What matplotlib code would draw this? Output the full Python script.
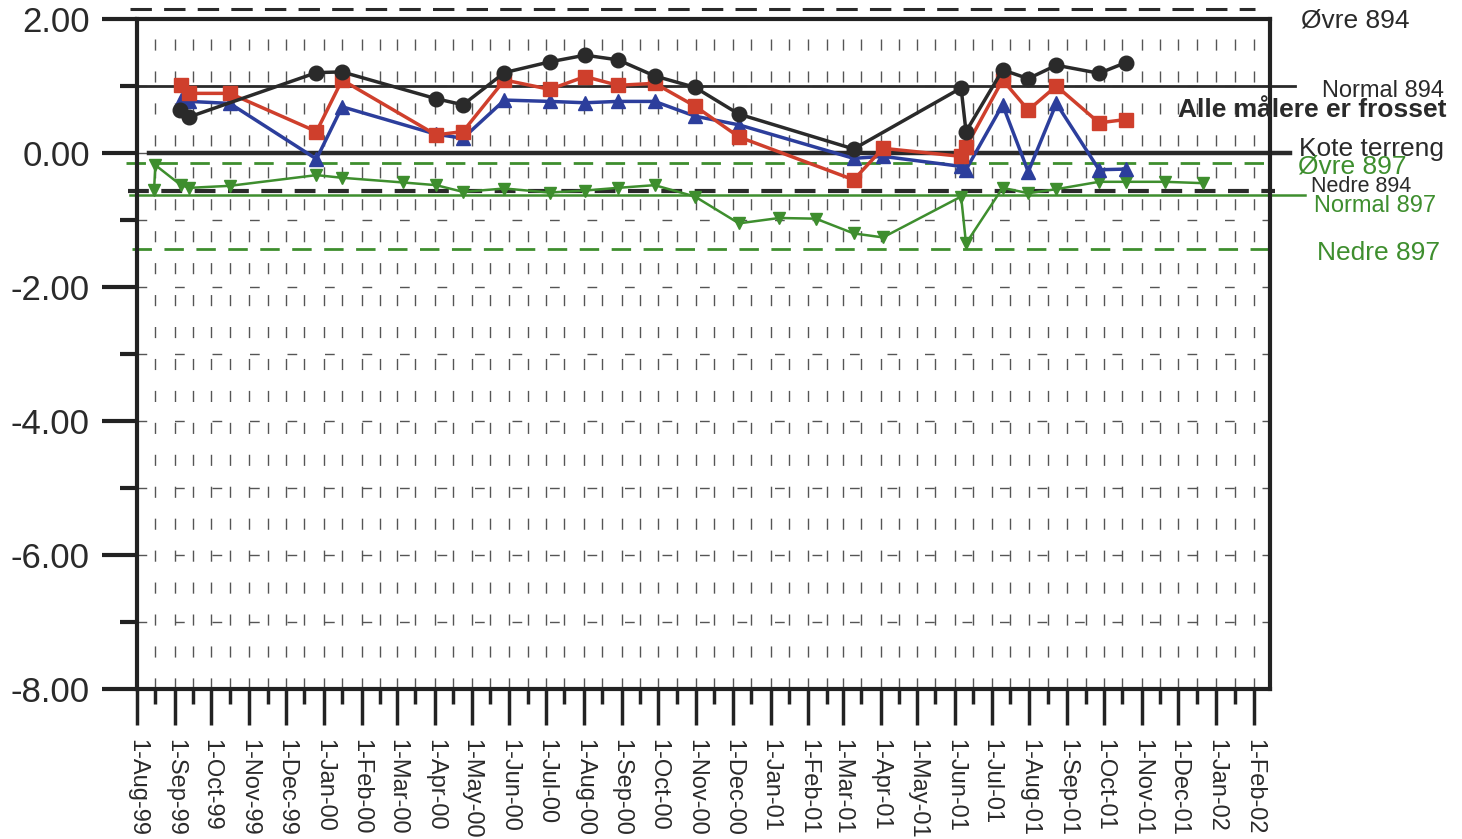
import matplotlib
matplotlib.use("Agg")
import matplotlib.pyplot as plt
import matplotlib.dates as mdates
import numpy as np
from datetime import datetime

plt.rcParams['font.family'] = ['Liberation Sans', 'DejaVu Sans']
plt.rcParams['axes.unicode_minus'] = False

# piezometer readings
dates_894 = ["1999-09-06", "1999-09-13", "1999-10-16", "1999-12-26", "2000-01-16", "2000-04-02",
             "2000-04-24", "2000-05-28", "2000-07-04", "2000-08-02", "2000-08-29", "2000-09-28",
             "2000-10-31", "2000-12-06", "2001-03-10", "2001-04-03", "2001-06-06", "2001-06-10",
             "2001-07-10", "2001-07-31", "2001-08-23", "2001-09-27", "2001-10-19"]
red_vals = [1.02, 0.89, 0.89, 0.32, 1.09, 0.27, 0.32, 1.09, 0.95, 1.14, 1.01, 1.04,
            0.70, 0.24, -0.40, 0.07, -0.05, 0.09, 1.09, 0.64, 1.00, 0.45, 0.50]
blue_vals = [0.79, 0.77, 0.74, -0.09, 0.69, 0.28, 0.22, 0.79, 0.77, 0.75, 0.77, 0.77,
             0.55, 0.42, -0.08, -0.05, -0.20, -0.25, 0.72, -0.28, 0.74, -0.25, -0.24]

black_dates = ["1999-09-05", "1999-09-13", "1999-12-26", "2000-01-16", "2000-04-02", "2000-04-24",
               "2000-05-28", "2000-07-04", "2000-08-02", "2000-08-29", "2000-09-28", "2000-10-31",
               "2000-12-06", "2001-03-10", "2001-06-06", "2001-06-10", "2001-07-10", "2001-07-31",
               "2001-08-23", "2001-09-27", "2001-10-19"]
black_vals = [0.64, 0.54, 1.20, 1.21, 0.81, 0.72, 1.20, 1.36, 1.46, 1.39, 1.15, 0.98,
              0.58, 0.06, 0.97, 0.32, 1.24, 1.11, 1.31, 1.19, 1.35]

green_dates = ["1999-08-15", "1999-08-16", "1999-09-06", "1999-09-13", "1999-10-16", "1999-12-26",
               "2000-01-16", "2000-03-06", "2000-04-02", "2000-04-24", "2000-05-28", "2000-07-04",
               "2000-08-02", "2000-08-29", "2000-09-28", "2000-10-31", "2000-12-06", "2001-01-08",
               "2001-02-07", "2001-03-10", "2001-04-03", "2001-06-06", "2001-06-10", "2001-07-10",
               "2001-07-31", "2001-08-23", "2001-09-27", "2001-10-19", "2001-11-20", "2001-12-21"]
green_vals = [-0.55, -0.18, -0.48, -0.52, -0.49, -0.33, -0.37, -0.44, -0.48, -0.58, -0.53, -0.59,
              -0.56, -0.52, -0.48, -0.65, -1.05, -0.97, -0.98, -1.20, -1.26, -0.65, -1.35, -0.52,
              -0.60, -0.54, -0.43, -0.43, -0.43, -0.45]

# reference levels
level_names = ["Øvre 894", "Normal 894", "Kote terreng", "Øvre 897", "Nedre 894", "Normal 897", "Nedre 897"]
level_vals = [2.15, 1.0, 0.0, -0.15, -0.56, -0.63, -1.44]

to_dt = lambda lst: [datetime.strptime(d, "%Y-%m-%d") for d in lst]

dark = '#2a2a2a'
green = '#3e8e2e'

fig = plt.figure(figsize=(14.62, 8.39), dpi=100)
ax = fig.add_axes([137/1462, 1-689/839, (1270-137)/1462, (689-19)/839])

ax.set_xlim(datetime(1999, 8, 1), datetime(2002, 2, 14))
ax.set_ylim(-8, 2)

# background dashed grid
ax.set_axisbelow(True)
ax.grid(which='both', axis='x', linestyle=(0, (8, 15)), lw=1.0, color='#555555')
ax.grid(which='both', axis='y', linestyle=(0, (7, 20)), lw=1.0, color='#555555')

# reference lines (x in axes fraction)
yt = ax.get_yaxis_transform()
ref_style = [
    (-0.006, 0.987, dark, (0, (7, 4)), 2.2),
    (0.0, 1.022, dark, '-', 2.0),
    (0.011, 1.018, dark, '-', 3.2),
    (-0.01, 1.002, green, (0, (7, 4.5)), 2.0),
    (-0.008, 1.004, dark, (0, (5, 3)), 3.0),
    (-0.006, 1.031, green, '-', 1.8),
    (-0.004, 1.01, green, (0, (7, 4.5)), 2.0),
]
for v, (x0, x1, c, ls, lw) in zip(level_vals, ref_style):
    ax.plot([x0, x1], [v, v], transform=yt, color=c, linestyle=ls, lw=lw, clip_on=False, zorder=2)

# series
ax.plot(to_dt(green_dates), green_vals, color=green, lw=1.8, marker='v', ms=8.5, zorder=3)
ax.plot(to_dt(dates_894), blue_vals, color='#2c3e9c', lw=2.5, marker='^', ms=10, zorder=4)
ax.plot(to_dt(dates_894), red_vals, color='#cf3f2c', lw=2.5, marker='s', ms=9.5, zorder=5)
ax.plot(to_dt(black_dates), black_vals, color=dark, lw=2.5, marker='o', ms=10.5, zorder=6)

# axes
for s in ax.spines.values():
    s.set_linewidth(3)
    s.set_color('#222222')

ax.xaxis.set_major_locator(mdates.MonthLocator())
ax.xaxis.set_minor_locator(mdates.MonthLocator(bymonthday=16))
ax.xaxis.set_major_formatter(plt.FuncFormatter(
    lambda x, pos: "%d-%s" % (mdates.num2date(x).day, mdates.num2date(x).strftime("%b-%y"))))
ax.tick_params(axis='x', which='major', length=26, width=2.5, color='#222222', pad=10,
               labelsize=17, labelcolor=dark)
ax.tick_params(axis='x', which='minor', length=11, width=2.5, color='#222222')
for lab in ax.get_xticklabels():
    lab.set_rotation(-90)
    lab.set_va('top')
    lab.set_ha('center')

ax.set_yticks(np.arange(-8, 3, 2))
ax.set_yticks(np.arange(-7, 2, 2), minor=True)
ax.yaxis.set_major_formatter(plt.FormatStrFormatter('%.2f'))
ax.tick_params(axis='y', which='major', length=25, width=3, color='#222222', pad=9,
               labelsize=25, labelcolor=dark)
ax.tick_params(axis='y', which='minor', length=12, width=3, color='#222222')

# right side labels (figure pixel positions)
def label(px, py, s, c=dark, size=18, weight='normal'):
    fig.text(px/1462, 1-py/839, s, color=c, fontsize=size, fontweight=weight, va='center', ha='left')

label(1301, 21, level_names[0], size=19)
label(1322, 91, level_names[1], size=17)
label(1178, 110, "Alle målere er frosset", size=19, weight='bold')
label(1299, 149, level_names[2], size=19)
label(1298, 167, level_names[3], c=green, size=19)
label(1311, 187, level_names[4], size=15.5)
label(1314, 206, level_names[5], c=green, size=17)
label(1317, 253, level_names[6], c=green, size=19)

fig.savefig("out.png", dpi=100)
